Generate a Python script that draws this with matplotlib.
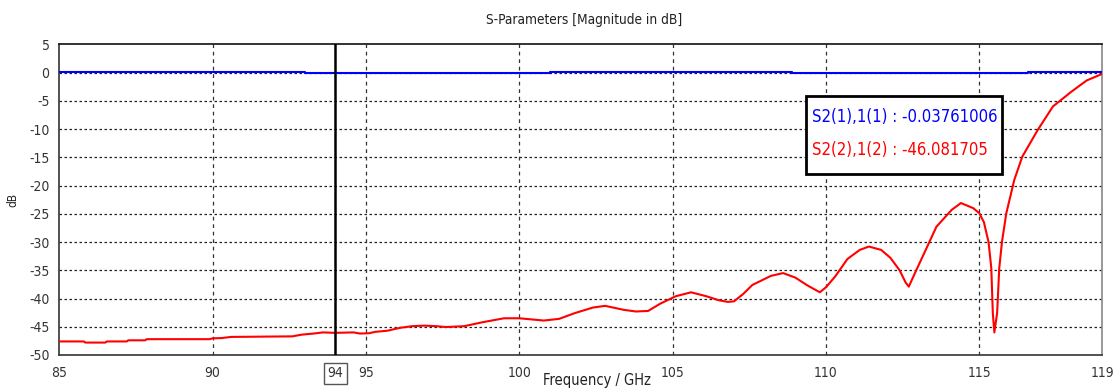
import matplotlib
matplotlib.use("Agg")
import matplotlib.pyplot as plt

plt.rcParams['font.family'] = ['DejaVu Sans']
plt.rcParams['font.stretch'] = 'condensed'

# S2(2),1(2) trace (GHz, dB)
freq_red = [85.0, 85.8, 85.85, 86.5, 86.55, 87.2, 87.25, 87.8, 87.85, 89.9,
            90.0, 90.3, 90.6, 92.6, 92.9, 93.3, 93.6, 94.0, 94.6, 94.8,
            95.1, 95.3, 95.7, 96.1, 96.5, 96.9, 97.3, 97.6, 98.2, 98.8,
            99.5, 100.0, 100.4, 100.8, 101.3, 101.8, 102.4, 102.8, 103.4, 103.8,
            104.2, 104.6, 105.1, 105.6, 106.1, 106.5, 106.8, 107.0, 107.3, 107.6,
            108.2, 108.6, 109.0, 109.4, 109.8, 110.0, 110.3, 110.7, 111.1, 111.4,
            111.8, 112.1, 112.4, 112.6, 112.7, 112.9, 113.2, 113.6, 114.1, 114.4,
            114.8, 115.0, 115.15, 115.3, 115.39, 115.44, 115.49, 115.58, 115.65, 115.74,
            115.88, 116.14, 116.4, 116.9, 117.4, 118.0, 118.5, 119.0]
s22_db = [-47.6, -47.6, -47.8, -47.8, -47.6, -47.6, -47.4, -47.4, -47.2, -47.2,
          -47.05, -47.0, -46.8, -46.7, -46.4, -46.2, -46.0, -46.08, -46.0, -46.2,
          -46.15, -45.9, -45.7, -45.2, -44.9, -44.8, -44.9, -45.05, -44.9, -44.2,
          -43.5, -43.5, -43.7, -43.9, -43.6, -42.6, -41.6, -41.3, -42.0, -42.3,
          -42.2, -40.9, -39.6, -38.9, -39.6, -40.3, -40.6, -40.5, -39.2, -37.6,
          -36.0, -35.5, -36.3, -37.7, -38.9, -38.0, -36.1, -33.0, -31.4, -30.8,
          -31.4, -32.8, -35.0, -37.2, -37.9, -35.5, -32.0, -27.3, -24.3, -23.1,
          -24.0, -24.9, -26.5, -30.0, -34.6, -42.6, -46.0, -42.6, -34.6, -29.9,
          -24.9, -19.0, -14.9, -10.2, -6.0, -3.4, -1.4, -0.25]

# S2(1),1(1) trace (GHz, dB) - nearly flat
freq_blue = [85.0, 93.0, 93.0, 101.0, 101.0, 108.9, 108.9, 116.6, 116.6, 119.0]
s11_db = [0.05, 0.05, -0.12, -0.12, 0.05, 0.05, -0.12, -0.12, 0.05, 0.05]

marker_freq = 94
marker_blue = "S2(1),1(1) : -0.03761006"
marker_red = "S2(2),1(2) : -46.081705"

xticks = [85, 90, 94, 95, 100, 105, 110, 115, 119]
xgrid = [90, 95, 100, 105, 110, 115]
yticks = list(range(-50, 6, 5))

W, H = 1113, 392
fig = plt.figure(figsize=(W / 100, H / 100), dpi=100)
ax = fig.add_axes([59.3 / W, 1 - 355 / H, (1102 - 59.3) / W, (355 - 44.3) / H])

ax.set_xlim(85, 119)
ax.set_ylim(-50, 5)

for y in yticks[1:-1]:
    ax.axhline(y, color='#222222', lw=0.9, ls=(0, (2, 2)), zorder=1)
for x in xgrid:
    ax.axvline(x, color='#333333', lw=0.9, ls=(0, (3, 3)), zorder=1)

ax.plot(freq_blue, s11_db, color='#0000ff', lw=1.5, zorder=3)
ax.plot(freq_red, s22_db, color='#ff0000', lw=1.5, zorder=3)
ax.axvline(marker_freq, color='black', lw=1.8, zorder=4)

ax.set_xticks(xticks)
ax.set_xticklabels([str(t) for t in xticks])
ax.set_yticks(yticks)
ax.set_yticklabels([str(t) for t in yticks])
ax.tick_params(length=0, labelsize=10, colors='#333333')
ax.tick_params(axis='x', pad=8)
ax.tick_params(axis='y', pad=7)
for lab in ax.get_xticklabels():
    if lab.get_text() == str(marker_freq):
        lab.set_bbox(dict(boxstyle='square,pad=0.25', fc='white', ec='#555555', lw=1.0))

for side, c in [('left', '#333333'), ('bottom', '#333333'), ('top', '#111111'), ('right', '#888888')]:
    ax.spines[side].set_color(c)
    ax.spines[side].set_linewidth(1.2)

fig.text(584 / W, 1 - 20 / H, "S-Parameters [Magnitude in dB]", ha='center', va='center',
         fontsize=9.8, color='#222222')
fig.text(597 / W, 1 - 381 / H, "Frequency / GHz", ha='center', va='center',
         fontsize=10.5, color='#222222')
fig.text(13 / W, 1 - 200 / H, "dB", ha='center', va='center', rotation=90,
         fontsize=8.5, color='#222222')

# marker readout box
box = plt.Rectangle((806 / W, 1 - 174 / H), (1002 - 806) / W, (174 - 96) / H,
                    transform=fig.transFigure, fc='white', ec='black', lw=2, zorder=10)
fig.patches.append(box)
fig.text(812 / W, 1 - 117 / H, marker_blue, ha='left', va='center', fontsize=12,
         color='#0000ff', zorder=11)
fig.text(812 / W, 1 - 150 / H, marker_red, ha='left', va='center', fontsize=12,
         color='#ff0000', zorder=11)

fig.savefig("out.png", dpi=100)
